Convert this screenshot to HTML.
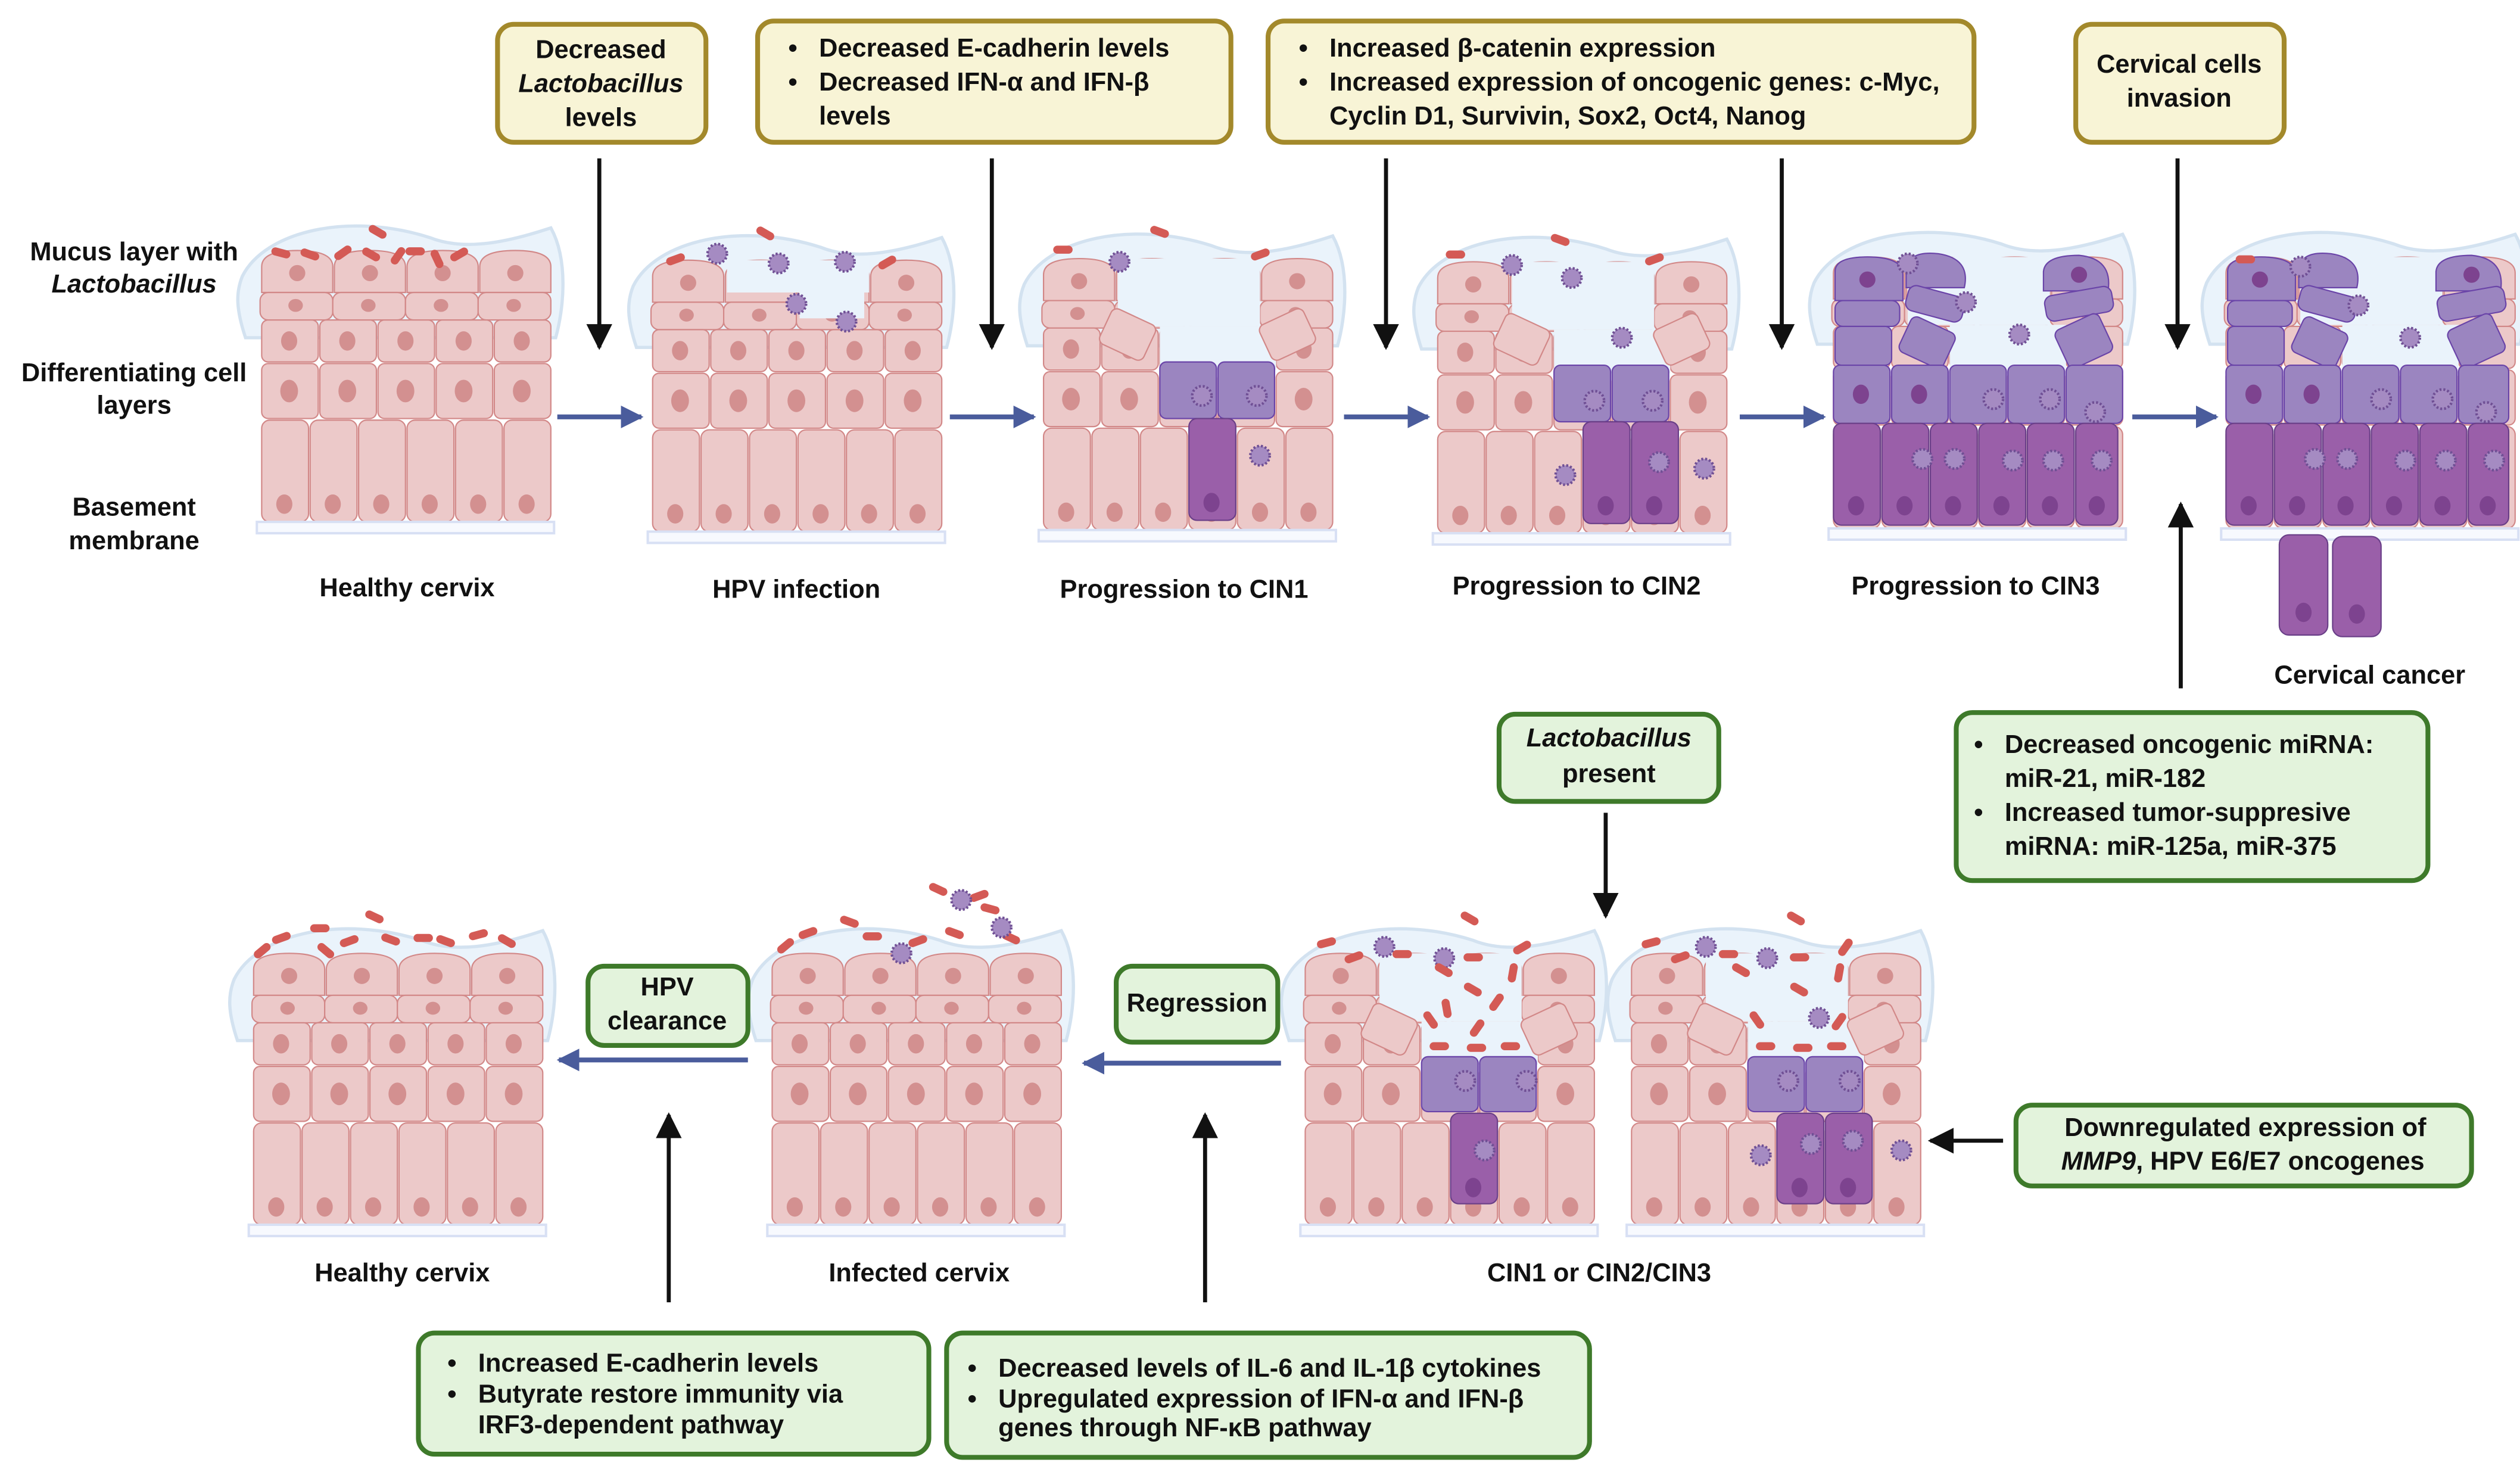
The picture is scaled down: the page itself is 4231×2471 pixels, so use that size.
<!DOCTYPE html>
<html><head><meta charset="utf-8"><style>
html,body{margin:0;padding:0;background:#fff;width:4231px;height:2471px;overflow:hidden}
svg{display:block}
text{font-family:"Liberation Sans",sans-serif;font-weight:bold;font-size:16px;fill:#111}
</style></head><body>
<svg width="4231" height="2471" viewBox="0 0 1560 911" xmlns="http://www.w3.org/2000/svg">
<defs>
<marker id="ab" markerWidth="10" markerHeight="10" refX="8" refY="5" orient="auto" markerUnits="userSpaceOnUse"><path d="M0,0 L10,5 L0,10 Z" fill="#111"/></marker>
<marker id="ak" viewBox="0 0 10 10" markerWidth="16" markerHeight="18" refX="9" refY="5" orient="auto" markerUnits="userSpaceOnUse"><path d="M0,0 L10,5 L0,10 Z" fill="#111"/></marker>
<marker id="au" viewBox="0 0 10 10" markerWidth="14" markerHeight="16" refX="9" refY="5" orient="auto" markerUnits="userSpaceOnUse"><path d="M0,0 L10,5 L0,10 Z" fill="#4a5c9c"/></marker>
<g id="cellP"><g fill="#ecc9c9" stroke="#d28888" stroke-width="0.8"/></g>
<symbol id="t" viewBox="0 0 210 210" width="210" height="210" overflow="visible">
 <path d="M4,40 C18,12 70,0 120,16 C140,24 165,20 195,10 C206,30 203,60 198,78 L6,78 C0,60 0,50 4,40Z" fill="#eaf3fb" stroke="#d3e2f0" stroke-width="2"/>
 <g fill="#ecc9c9" stroke="#d28888" stroke-width="0.8">
  <path d="M16,50 V34 Q16,24 38,24 Q60,24 60,34 V50Z"/><path d="M61,50 V34 Q61,24 83,24 Q105,24 105,34 V50Z"/><path d="M106,50 V34 Q106,24 128,24 Q150,24 150,34 V50Z"/><path d="M151,50 V34 Q151,24 173,24 Q195,24 195,34 V50Z"/>
  <rect x="15" y="50" width="45" height="17" rx="5"/><rect x="60" y="50" width="45" height="17" rx="5"/><rect x="105" y="50" width="45" height="17" rx="5"/><rect x="150" y="50" width="45" height="17" rx="5"/>
  <rect x="16" y="67" width="35" height="26" rx="4"/><rect x="52" y="67" width="35" height="26" rx="4"/><rect x="88" y="67" width="35" height="26" rx="4"/><rect x="124" y="67" width="35" height="26" rx="4"/><rect x="160" y="67" width="35" height="26" rx="4"/>
  <rect x="16" y="94" width="35" height="34" rx="4"/><rect x="52" y="94" width="35" height="34" rx="4"/><rect x="88" y="94" width="35" height="34" rx="4"/><rect x="124" y="94" width="35" height="34" rx="4"/><rect x="160" y="94" width="35" height="34" rx="4"/>
  <rect x="16" y="129" width="29" height="63" rx="5"/><rect x="46" y="129" width="29" height="63" rx="5"/><rect x="76" y="129" width="29" height="63" rx="5"/><rect x="106" y="129" width="29" height="63" rx="5"/><rect x="136" y="129" width="29" height="63" rx="5"/><rect x="166" y="129" width="29" height="63" rx="5"/>
 </g>
 <g fill="#d39090">
  <ellipse cx="38" cy="38" rx="5" ry="5"/><ellipse cx="83" cy="38" rx="5" ry="5"/><ellipse cx="128" cy="38" rx="5" ry="5"/><ellipse cx="173" cy="38" rx="5" ry="5"/>
  <ellipse cx="37" cy="58" rx="4.5" ry="4"/><ellipse cx="82" cy="58" rx="4.5" ry="4"/><ellipse cx="127" cy="58" rx="4.5" ry="4"/><ellipse cx="172" cy="58" rx="4.5" ry="4"/>
  <ellipse cx="33" cy="80" rx="5" ry="6"/><ellipse cx="69" cy="80" rx="5" ry="6"/><ellipse cx="105" cy="80" rx="5" ry="6"/><ellipse cx="141" cy="80" rx="5" ry="6"/><ellipse cx="177" cy="80" rx="5" ry="6"/>
  <ellipse cx="33" cy="111" rx="5.5" ry="7"/><ellipse cx="69" cy="111" rx="5.5" ry="7"/><ellipse cx="105" cy="111" rx="5.5" ry="7"/><ellipse cx="141" cy="111" rx="5.5" ry="7"/><ellipse cx="177" cy="111" rx="5.5" ry="7"/>
  <ellipse cx="30" cy="181" rx="5" ry="6"/><ellipse cx="60" cy="181" rx="5" ry="6"/><ellipse cx="90" cy="181" rx="5" ry="6"/><ellipse cx="120" cy="181" rx="5" ry="6"/><ellipse cx="150" cy="181" rx="5" ry="6"/><ellipse cx="180" cy="181" rx="5" ry="6"/>
 </g>
 <rect x="13" y="192" width="184" height="7" fill="#f7f9fe" stroke="#d8e0f4" stroke-width="1.5"/>
</symbol>
<symbol id="v" viewBox="-7 -7 14 14" width="14" height="14" overflow="visible"><circle r="6" fill="#a58bc2" stroke="#6f4f94" stroke-width="1.6" stroke-dasharray="1.2 1.2"/></symbol>
<g id="gap"><rect x="62" y="24" width="88" height="42" fill="#eaf3fb"/><rect x="88" y="66" width="72" height="27" fill="#eaf3fb"/></g>
</defs>

<!-- bacteria style -->
<g id="all">
<!-- TOP ROW -->
<use href="#t" x="146" y="131"/>
<g fill="#d45a55">
<rect x="168" y="154" width="12" height="5" rx="2.5" transform="rotate(15 174 156)"/><rect x="186" y="155" width="12" height="5" rx="2.5" transform="rotate(20 192 157)"/><rect x="206" y="154" width="12" height="5" rx="2.5" transform="rotate(-35 212 156)"/><rect x="224" y="155" width="12" height="5" rx="2.5" transform="rotate(30 230 157)"/><rect x="240" y="156" width="12" height="5" rx="2.5" transform="rotate(-55 246 158)"/><rect x="251" y="153" width="12" height="5" rx="2.5"/><rect x="265" y="158" width="12" height="5" rx="2.5" transform="rotate(65 271 160)"/><rect x="278" y="155" width="12" height="5" rx="2.5" transform="rotate(-30 284 157)"/><rect x="228" y="141" width="12" height="5" rx="2.5" transform="rotate(30 234 143)"/>
</g>

<use href="#t" x="388" y="137"/>
<rect x="450" y="161" width="88" height="20" fill="#eaf3fb"/><rect x="495" y="180" width="40" height="17" fill="#eaf3fb"/>
<g fill="#d45a55"><rect x="412" y="158" width="12" height="5" rx="2.5" transform="rotate(-20 418 160)"/><rect x="468" y="142" width="12" height="5" rx="2.5" transform="rotate(30 474 144)"/><rect x="543" y="160" width="12" height="5" rx="2.5" transform="rotate(-30 549 162)"/></g>
<use href="#v" x="437" y="150"/><use href="#v" x="475" y="156"/><use href="#v" x="516" y="155"/><use href="#v" x="486" y="181"/><use href="#v" x="517" y="192"/>

<!-- CIN1 -->
<use href="#t" x="630" y="136"/>
<use href="#gap" transform="translate(630,136)"/>
<g fill="#ecc9c9" stroke="#d28888" stroke-width="0.8"><rect x="683" y="195" width="30" height="24" rx="4" transform="rotate(25 698 207)"/><rect x="782" y="195" width="30" height="24" rx="4" transform="rotate(-25 797 207)"/></g>
<g fill="#9b85c0" stroke="#6a44a8" stroke-width="0.8"><rect x="718" y="224" width="35" height="35" rx="4"/><rect x="754" y="224" width="35" height="35" rx="4"/></g>
<rect x="736" y="259" width="29" height="63" rx="5" fill="#9a5fa9" stroke="#6a3f88" stroke-width="0.8"/><ellipse cx="750" cy="311" rx="5" ry="6" fill="#7d438f"/>
<g fill="#d45a55"><rect x="652" y="152" width="12" height="5" rx="2.5"/><rect x="712" y="141" width="12" height="5" rx="2.5" transform="rotate(20 718 143)"/><rect x="774" y="155" width="12" height="5" rx="2.5" transform="rotate(-20 780 157)"/></g>
<use href="#v" x="686" y="155"/><use href="#v" x="737" y="238"/><use href="#v" x="771" y="238"/><use href="#v" x="773" y="275"/>

<!-- CIN2 -->
<use href="#t" x="874" y="138"/>
<use href="#gap" transform="translate(874,138)"/>
<g fill="#ecc9c9" stroke="#d28888" stroke-width="0.8"><rect x="927" y="198" width="30" height="24" rx="4" transform="rotate(25 942 210)"/><rect x="1026" y="198" width="30" height="24" rx="4" transform="rotate(-25 1041 210)"/></g>
<g fill="#9b85c0" stroke="#6a44a8" stroke-width="0.8"><rect x="962" y="226" width="35" height="35" rx="4"/><rect x="998" y="226" width="35" height="35" rx="4"/></g>
<g fill="#9a5fa9" stroke="#6a3f88" stroke-width="0.8"><rect x="980" y="261" width="29" height="63" rx="5"/><rect x="1010" y="261" width="29" height="63" rx="5"/></g>
<g fill="#7d438f"><ellipse cx="994" cy="313" rx="5" ry="6"/><ellipse cx="1024" cy="313" rx="5" ry="6"/></g>
<g fill="#d45a55"><rect x="895" y="155" width="12" height="5" rx="2.5"/><rect x="960" y="146" width="12" height="5" rx="2.5" transform="rotate(20 966 148)"/><rect x="1018" y="158" width="12" height="5" rx="2.5" transform="rotate(-20 1024 160)"/></g>
<use href="#v" x="929" y="157"/><use href="#v" x="966" y="165"/><use href="#v" x="997" y="202"/><use href="#v" x="980" y="241"/><use href="#v" x="1016" y="241"/><use href="#v" x="962" y="287"/><use href="#v" x="1020" y="279"/><use href="#v" x="1048" y="283"/>

<!-- CIN3 -->
<use href="#t" x="1119" y="135"/>
<use href="#gap" transform="translate(1119,135)"/>
<g fill="#9b85c0" stroke="#6a44a8" stroke-width="0.8">
<path d="M1136,186 V168 Q1136,159 1156,159 Q1178,159 1178,170 V186Z"/><path d="M1180,178 V166 Q1182,155 1200,157 Q1220,160 1216,178Z"/><rect x="1136" y="186" width="40" height="16" rx="5"/><rect x="1180" y="180" width="36" height="16" rx="5" transform="rotate(15 1198 188)"/>
<rect x="1136" y="202" width="35" height="24" rx="4"/><rect x="1178" y="200" width="30" height="24" rx="4" transform="rotate(25 1193 212)"/>
<path d="M1265,180 V168 Q1266,158 1287,158 Q1308,160 1305,180Z"/><rect x="1266" y="180" width="42" height="16" rx="5" transform="rotate(-10 1287 188)"/><rect x="1275" y="198" width="30" height="26" rx="4" transform="rotate(-25 1290 211)"/>
<rect x="1135" y="226" width="35" height="36" rx="4"/><rect x="1171" y="226" width="35" height="36" rx="4"/><rect x="1207" y="226" width="35" height="36" rx="4"/><rect x="1243" y="226" width="35" height="36" rx="4"/><rect x="1279" y="226" width="35" height="36" rx="4"/>
</g>
<g fill="#9a5fa9" stroke="#6a3f88" stroke-width="0.8"><rect x="1135" y="262" width="29" height="63" rx="5"/><rect x="1165" y="262" width="29" height="63" rx="5"/><rect x="1195" y="262" width="29" height="63" rx="5"/><rect x="1225" y="262" width="29" height="63" rx="5"/><rect x="1255" y="262" width="29" height="63" rx="5"/><rect x="1285" y="262" width="26" height="63" rx="5"/></g>
<g fill="#7d438f"><ellipse cx="1149" cy="313" rx="5" ry="6"/><ellipse cx="1179" cy="313" rx="5" ry="6"/><ellipse cx="1209" cy="313" rx="5" ry="6"/><ellipse cx="1239" cy="313" rx="5" ry="6"/><ellipse cx="1269" cy="313" rx="5" ry="6"/><ellipse cx="1298" cy="313" rx="5" ry="6"/>
<ellipse cx="1156" cy="173" rx="5" ry="5"/><ellipse cx="1287" cy="170" rx="5" ry="5"/><ellipse cx="1152" cy="244" rx="5" ry="6"/><ellipse cx="1188" cy="244" rx="5" ry="6"/></g>
<use href="#v" x="1174" y="156"/><use href="#v" x="1210" y="180"/><use href="#v" x="1243" y="200"/><use href="#v" x="1227" y="240"/><use href="#v" x="1262" y="240"/><use href="#v" x="1290" y="248"/><use href="#v" x="1183" y="277"/><use href="#v" x="1203" y="277"/><use href="#v" x="1239" y="278"/><use href="#v" x="1264" y="278"/><use href="#v" x="1294" y="278"/>

<!-- CANCER -->
<use href="#t" x="1362" y="135"/>
<use href="#gap" transform="translate(1362,135)"/>
<g fill="#9b85c0" stroke="#6a44a8" stroke-width="0.8">
<path d="M1379,186 V168 Q1379,159 1399,159 Q1421,159 1421,170 V186Z"/><path d="M1423,178 V166 Q1425,155 1443,157 Q1463,160 1459,178Z"/><rect x="1379" y="186" width="40" height="16" rx="5"/><rect x="1423" y="180" width="36" height="16" rx="5" transform="rotate(15 1441 188)"/>
<rect x="1379" y="202" width="35" height="24" rx="4"/><rect x="1421" y="200" width="30" height="24" rx="4" transform="rotate(25 1436 212)"/>
<path d="M1508,180 V168 Q1509,158 1530,158 Q1551,160 1548,180Z"/><rect x="1509" y="180" width="42" height="16" rx="5" transform="rotate(-10 1530 188)"/><rect x="1518" y="198" width="30" height="26" rx="4" transform="rotate(-25 1533 211)"/>
<rect x="1378" y="226" width="35" height="36" rx="4"/><rect x="1414" y="226" width="35" height="36" rx="4"/><rect x="1450" y="226" width="35" height="36" rx="4"/><rect x="1486" y="226" width="35" height="36" rx="4"/><rect x="1522" y="226" width="31" height="36" rx="4"/>
</g>
<g fill="#9a5fa9" stroke="#6a3f88" stroke-width="0.8"><rect x="1378" y="262" width="29" height="63" rx="5"/><rect x="1408" y="262" width="29" height="63" rx="5"/><rect x="1438" y="262" width="29" height="63" rx="5"/><rect x="1468" y="262" width="29" height="63" rx="5"/><rect x="1498" y="262" width="29" height="63" rx="5"/><rect x="1528" y="262" width="25" height="63" rx="5"/>
<rect x="1411" y="331" width="30" height="62" rx="6"/><rect x="1444" y="332" width="30" height="62" rx="6"/></g>
<g fill="#7d438f"><ellipse cx="1392" cy="313" rx="5" ry="6"/><ellipse cx="1422" cy="313" rx="5" ry="6"/><ellipse cx="1452" cy="313" rx="5" ry="6"/><ellipse cx="1482" cy="313" rx="5" ry="6"/><ellipse cx="1512" cy="313" rx="5" ry="6"/><ellipse cx="1540" cy="313" rx="5" ry="6"/><ellipse cx="1426" cy="379" rx="5" ry="6"/><ellipse cx="1459" cy="380" rx="5" ry="6"/>
<ellipse cx="1399" cy="173" rx="5" ry="5"/><ellipse cx="1530" cy="170" rx="5" ry="5"/><ellipse cx="1395" cy="244" rx="5" ry="6"/><ellipse cx="1431" cy="244" rx="5" ry="6"/></g>
<rect x="1384" y="158" width="12" height="5" rx="2.5" fill="#d45a55"/>
<use href="#v" x="1417" y="158"/><use href="#v" x="1453" y="182"/><use href="#v" x="1485" y="202"/><use href="#v" x="1467" y="240"/><use href="#v" x="1505" y="240"/><use href="#v" x="1532" y="248"/><use href="#v" x="1426" y="277"/><use href="#v" x="1446" y="277"/><use href="#v" x="1482" y="278"/><use href="#v" x="1507" y="278"/><use href="#v" x="1537" y="278"/>

<!-- BOTTOM ROW -->
<use href="#t" x="141" y="566"/>
<g fill="#d45a55"><rect x="156" y="586" width="12" height="5" rx="2.5" transform="rotate(-40 162 588)"/><rect x="168" y="578" width="12" height="5" rx="2.5" transform="rotate(-20 174 580)"/><rect x="192" y="572" width="12" height="5" rx="2.5"/><rect x="210" y="580" width="12" height="5" rx="2.5" transform="rotate(-20 216 582)"/><rect x="226" y="565" width="12" height="5" rx="2.5" transform="rotate(25 232 567)"/><rect x="236" y="579" width="12" height="5" rx="2.5" transform="rotate(20 242 581)"/><rect x="256" y="578" width="12" height="5" rx="2.5"/><rect x="270" y="580" width="12" height="5" rx="2.5" transform="rotate(20 276 582)"/><rect x="290" y="576" width="12" height="5" rx="2.5" transform="rotate(-15 296 578)"/><rect x="308" y="580" width="12" height="5" rx="2.5" transform="rotate(30 314 582)"/><rect x="196" y="586" width="12" height="5" rx="2.5" transform="rotate(40 202 588)"/></g>

<use href="#t" x="462" y="566"/>
<g fill="#d45a55"><rect x="480" y="583" width="12" height="5" rx="2.5" transform="rotate(-40 486 585)"/><rect x="494" y="575" width="12" height="5" rx="2.5" transform="rotate(-20 500 577)"/><rect x="520" y="568" width="12" height="5" rx="2.5" transform="rotate(20 526 570)"/><rect x="534" y="577" width="12" height="5" rx="2.5"/><rect x="562" y="580" width="12" height="5" rx="2.5" transform="rotate(-20 568 582)"/><rect x="575" y="548" width="12" height="5" rx="2.5" transform="rotate(25 581 550)"/><rect x="585" y="575" width="12" height="5" rx="2.5" transform="rotate(20 591 577)"/><rect x="600" y="552" width="12" height="5" rx="2.5" transform="rotate(-20 606 554)"/><rect x="607" y="560" width="12" height="5" rx="2.5" transform="rotate(15 613 562)"/><rect x="620" y="578" width="12" height="5" rx="2.5" transform="rotate(25 626 580)"/></g>
<use href="#v" x="551" y="583"/><use href="#v" x="588" y="550"/><use href="#v" x="613" y="567"/>

<!-- CIN1 bottom -->
<g>
<use href="#t" x="792" y="566"/>
<use href="#gap" transform="translate(792,566)"/>
<g fill="#ecc9c9" stroke="#d28888" stroke-width="0.8"><rect x="845" y="625" width="30" height="24" rx="4" transform="rotate(25 860 637)"/><rect x="944" y="625" width="30" height="24" rx="4" transform="rotate(-25 959 637)"/></g>
<g fill="#9b85c0" stroke="#6a44a8" stroke-width="0.8"><rect x="880" y="654" width="35" height="34" rx="4"/><rect x="916" y="654" width="35" height="34" rx="4"/></g>
<rect x="898" y="689" width="29" height="56" rx="5" fill="#9a5fa9" stroke="#6a3f88" stroke-width="0.8"/><ellipse cx="912" cy="735" rx="5" ry="6" fill="#7d438f"/>
<use href="#v" x="900" y="662"/><use href="#v" x="938" y="662"/><use href="#v" x="912" y="705"/><use href="#v" x="850" y="579"/><use href="#v" x="887" y="586"/>
</g>
<g>
<use href="#t" x="994" y="566"/>
<use href="#gap" transform="translate(994,566)"/>
<g fill="#ecc9c9" stroke="#d28888" stroke-width="0.8"><rect x="1047" y="625" width="30" height="24" rx="4" transform="rotate(25 1062 637)"/><rect x="1146" y="625" width="30" height="24" rx="4" transform="rotate(-25 1161 637)"/></g>
<g fill="#9b85c0" stroke="#6a44a8" stroke-width="0.8"><rect x="1082" y="654" width="35" height="34" rx="4"/><rect x="1118" y="654" width="35" height="34" rx="4"/></g>
<g fill="#9a5fa9" stroke="#6a3f88" stroke-width="0.8"><rect x="1100" y="689" width="29" height="56" rx="5"/><rect x="1130" y="689" width="29" height="56" rx="5"/></g>
<g fill="#7d438f"><ellipse cx="1114" cy="735" rx="5" ry="6"/><ellipse cx="1144" cy="735" rx="5" ry="6"/></g>
<use href="#v" x="1100" y="662"/><use href="#v" x="1138" y="662"/><use href="#v" x="1114" y="701"/><use href="#v" x="1140" y="699"/><use href="#v" x="1083" y="708"/><use href="#v" x="1170" y="705"/><use href="#v" x="1049" y="579"/><use href="#v" x="1087" y="586"/><use href="#v" x="1119" y="623"/>
</g>
<g fill="#d45a55">
<rect x="815" y="581" width="12" height="5" rx="2.5" transform="rotate(-15 821 583)"/><rect x="832" y="590" width="12" height="5" rx="2.5" transform="rotate(-20 838 592)"/><rect x="862" y="588" width="12" height="5" rx="2.5"/><rect x="888" y="598" width="12" height="5" rx="2.5" transform="rotate(30 894 600)"/><rect x="904" y="566" width="12" height="5" rx="2.5" transform="rotate(30 910 568)"/><rect x="906" y="590" width="12" height="5" rx="2.5"/><rect x="906" y="610" width="12" height="5" rx="2.5" transform="rotate(30 912 612)"/><rect x="890" y="622" width="12" height="5" rx="2.5" transform="rotate(80 896 624)"/><rect x="920" y="618" width="12" height="5" rx="2.5" transform="rotate(-55 926 620)"/><rect x="930" y="600" width="12" height="5" rx="2.5" transform="rotate(-80 936 602)"/><rect x="936" y="584" width="12" height="5" rx="2.5" transform="rotate(-30 942 586)"/><rect x="880" y="629" width="12" height="5" rx="2.5" transform="rotate(55 886 631)"/><rect x="908" y="634" width="12" height="5" rx="2.5" transform="rotate(-55 914 636)"/><rect x="885" y="645" width="12" height="5" rx="2.5"/><rect x="908" y="646" width="12" height="5" rx="2.5"/><rect x="929" y="645" width="12" height="5" rx="2.5"/>
<rect x="1016" y="581" width="12" height="5" rx="2.5" transform="rotate(-15 1022 583)"/><rect x="1034" y="590" width="12" height="5" rx="2.5" transform="rotate(-20 1040 592)"/><rect x="1064" y="588" width="12" height="5" rx="2.5"/><rect x="1072" y="598" width="12" height="5" rx="2.5" transform="rotate(30 1078 600)"/><rect x="1106" y="566" width="12" height="5" rx="2.5" transform="rotate(30 1112 568)"/><rect x="1108" y="590" width="12" height="5" rx="2.5"/><rect x="1108" y="610" width="12" height="5" rx="2.5" transform="rotate(30 1114 612)"/><rect x="1132" y="600" width="12" height="5" rx="2.5" transform="rotate(-80 1138 602)"/><rect x="1136" y="584" width="12" height="5" rx="2.5" transform="rotate(-55 1142 586)"/><rect x="1082" y="629" width="12" height="5" rx="2.5" transform="rotate(55 1088 631)"/><rect x="1132" y="630" width="12" height="5" rx="2.5" transform="rotate(-55 1138 632)"/><rect x="1087" y="645" width="12" height="5" rx="2.5"/><rect x="1110" y="646" width="12" height="5" rx="2.5"/><rect x="1131" y="645" width="12" height="5" rx="2.5"/>
</g>
</g>

<!-- ARROWS -->
<g stroke="#111" stroke-width="2.5" fill="none">
<line x1="371" y1="98" x2="371" y2="215" marker-end="url(#ak)"/>
<line x1="614" y1="98" x2="614" y2="215" marker-end="url(#ak)"/>
<line x1="858" y1="98" x2="858" y2="215" marker-end="url(#ak)"/>
<line x1="1103" y1="98" x2="1103" y2="215" marker-end="url(#ak)"/>
<line x1="1348" y1="98" x2="1348" y2="215" marker-end="url(#ak)"/>
<line x1="1350" y1="426" x2="1350" y2="312" marker-end="url(#ak)"/>
<line x1="994" y1="503" x2="994" y2="567" marker-end="url(#ak)"/>
<line x1="1240" y1="706" x2="1195" y2="706" marker-end="url(#ak)"/>
<line x1="414" y1="806" x2="414" y2="690" marker-end="url(#ak)"/>
<line x1="746" y1="806" x2="746" y2="690" marker-end="url(#ak)"/>
</g>
<g stroke="#4a5c9c" stroke-width="3" fill="none">
<line x1="345" y1="258" x2="397" y2="258" marker-end="url(#au)"/>
<line x1="588" y1="258" x2="640" y2="258" marker-end="url(#au)"/>
<line x1="832" y1="258" x2="884" y2="258" marker-end="url(#au)"/>
<line x1="1077" y1="258" x2="1129" y2="258" marker-end="url(#au)"/>
<line x1="1320" y1="258" x2="1372" y2="258" marker-end="url(#au)"/>
<line x1="463" y1="656" x2="346" y2="656" marker-end="url(#au)"/>
<line x1="793" y1="658" x2="671" y2="658" marker-end="url(#au)"/>
</g>

<!-- BOXES -->
<g fill="#f8f4d6" stroke="#a3892b" stroke-width="3">
<rect x="308" y="15" width="129" height="73" rx="10"/>
<rect x="469" y="13" width="293" height="75" rx="10"/>
<rect x="785" y="13" width="437" height="75" rx="10"/>
<rect x="1285" y="15" width="129" height="73" rx="10"/>
</g>
<g fill="#e3f3dc" stroke="#3e7a2a" stroke-width="3">
<rect x="928" y="442" width="136" height="54" rx="10"/>
<rect x="1211" y="441" width="292" height="104" rx="10"/>
<rect x="1248" y="684" width="282" height="50" rx="10"/>
<rect x="364" y="598" width="99" height="49" rx="10"/>
<rect x="691" y="598" width="100" height="47" rx="10"/>
<rect x="259" y="825" width="316" height="75" rx="10"/>
<rect x="586" y="825" width="398" height="77" rx="10"/>
</g>

<!-- TEXT -->
<g text-anchor="middle">
<text x="372" y="36">Decreased</text><text x="372" y="57" font-style="italic">Lactobacillus</text><text x="372" y="78">levels</text>
<text x="1349" y="45">Cervical cells</text><text x="1349" y="66">invasion</text>
<text x="996" y="462" font-style="italic">Lactobacillus</text><text x="996" y="484">present</text>
<text x="413" y="616">HPV</text><text x="413" y="637">clearance</text>
<text x="741" y="626">Regression</text>
<text x="1390" y="703">Downregulated expression of</text>
<text x="83" y="161">Mucus layer with</text><text x="83" y="181" font-style="italic">Lactobacillus</text>
<text x="83" y="236">Differentiating cell</text><text x="83" y="256">layers</text>
<text x="83" y="319">Basement</text><text x="83" y="340">membrane</text>
<text x="252" y="369">Healthy cervix</text><text x="493" y="370">HPV infection</text><text x="733" y="370">Progression to CIN1</text><text x="976" y="368">Progression to CIN2</text><text x="1223" y="368">Progression to CIN3</text><text x="1467" y="423">Cervical cancer</text>
<text x="249" y="793">Healthy cervix</text><text x="569" y="793">Infected cervix</text><text x="990" y="793">CIN1 or CIN2/CIN3</text>
</g>
<text x="1276" y="724"><tspan font-style="italic">MMP9</tspan>,  HPV E6/E7 oncogenes</text>
<g>
<text x="488" y="35">•</text><text x="507" y="35">Decreased E-cadherin levels</text>
<text x="488" y="56">•</text><text x="507" y="56">Decreased IFN-α and IFN-β</text><text x="507" y="77">levels</text>
<text x="804" y="35">•</text><text x="823" y="35">Increased  β-catenin expression</text>
<text x="804" y="56">•</text><text x="823" y="56">Increased expression of oncogenic genes: c-Myc,</text><text x="823" y="77">Cyclin D1, Survivin, Sox2, Oct4, Nanog</text>
<text x="1222" y="466">•</text><text x="1241" y="466">Decreased oncogenic miRNA:</text><text x="1241" y="487">miR-21, miR-182</text>
<text x="1222" y="508">•</text><text x="1241" y="508">Increased tumor-suppresive</text><text x="1241" y="529">miRNA: miR-125a, miR-375</text>
<text x="277" y="849">•</text><text x="296" y="849">Increased E-cadherin levels</text>
<text x="277" y="868">•</text><text x="296" y="868">Butyrate restore immunity via</text><text x="296" y="887">IRF3-dependent pathway</text>
<text x="599" y="852">•</text><text x="618" y="852">Decreased levels of IL-6 and IL-1β cytokines</text>
<text x="599" y="871">•</text><text x="618" y="871">Upregulated expression of IFN-α and IFN-β</text><text x="618" y="889">genes through NF-κB  pathway</text>
</g>
</svg>
</body></html>
